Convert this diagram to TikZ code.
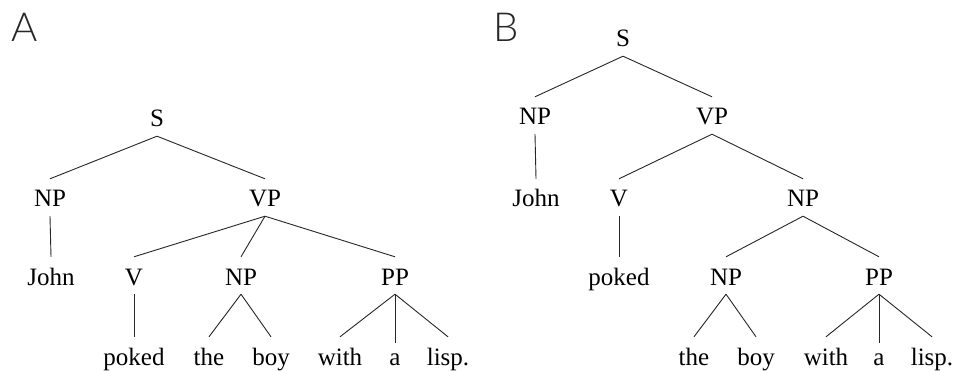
\documentclass[tikz,border=0pt]{standalone}
\usepackage{fontspec}
\setmainfont{Liberation Serif}
\newfontfamily\labfont{Lato Light}
\begin{document}
\begin{tikzpicture}[x=1pt,y=-1pt,
  cat/.style={inner sep=0pt, anchor=base, text height=28pt, text depth=9pt, font=\fontsize{25}{30}\selectfont},
  short/.style={text height=22pt},
  lab/.style={inner sep=0pt, anchor=base, font=\labfont\fontsize{40}{44}\selectfont, text=black!85},
  edge/.style={line width=0.9pt, draw=black!85}]
\useasboundingbox (0,0) rectangle (957,371);
% Panel A
\node[lab] (labA) at (25,42) {A};
\node[cat] (SA) at (157,127) {S};
\node[cat] (NPA) at (50,207) {NP};
\node[cat] (VPA) at (265,207) {VP};
\node[cat] (JohnA) at (51,285) {John};
\node[cat] (VA) at (134,285) {V};
\node[cat] (NP2A) at (241,285) {NP};
\node[cat] (PPA) at (395,285) {PP};
\node[cat] (pokedA) at (134,365) {poked};
\node[cat] (theA) at (209,365) {the};
\node[cat] (boyA) at (271,365) {boy};
\node[cat] (withA) at (340,365) {with};
\node[cat,short] (aA) at (395,365) {a};
\node[cat] (lispA) at (448,365) {lisp.};
\draw[edge] (SA.south) -- (NPA.north);
\draw[edge] (SA.south) -- (VPA.north);
\draw[edge] (NPA.south) -- (JohnA.north);
\draw[edge] (VPA.south) -- (VA.north);
\draw[edge] (VPA.south) -- (NP2A.north);
\draw[edge] (VPA.south) -- (PPA.north);
\draw[edge] (VA.south) -- (pokedA.north);
\draw[edge] (NP2A.south) -- (theA.north);
\draw[edge] (NP2A.south) -- (boyA.north);
\draw[edge] (PPA.south) -- (withA.north);
\draw[edge] (PPA.south) -- (aA.north);
\draw[edge] (PPA.south) -- (lispA.north);
% Panel B
\node[lab] (labB) at (506,42) {B};
\node[cat] (SB) at (623,47) {S};
\node[cat] (NPB) at (535,125) {NP};
\node[cat] (VPB) at (712,125) {VP};
\node[cat] (JohnB) at (536,207) {John};
\node[cat] (VB) at (619,207) {V};
\node[cat] (NP2B) at (803,207) {NP};
\node[cat] (pokedB) at (619,285) {poked};
\node[cat] (NP3B) at (726,285) {NP};
\node[cat] (PPB) at (879,285) {PP};
\node[cat] (theB) at (694,365) {the};
\node[cat] (boyB) at (756,365) {boy};
\node[cat] (withB) at (826,365) {with};
\node[cat,short] (aB) at (879,365) {a};
\node[cat] (lispB) at (932,365) {lisp.};
\draw[edge] (SB.south) -- (NPB.north);
\draw[edge] (SB.south) -- (VPB.north);
\draw[edge] (NPB.south) -- (JohnB.north);
\draw[edge] (VPB.south) -- (VB.north);
\draw[edge] (VPB.south) -- (NP2B.north);
\draw[edge] (VB.south) -- (pokedB.north);
\draw[edge] (NP2B.south) -- (NP3B.north);
\draw[edge] (NP2B.south) -- (PPB.north);
\draw[edge] (NP3B.south) -- (theB.north);
\draw[edge] (NP3B.south) -- (boyB.north);
\draw[edge] (PPB.south) -- (withB.north);
\draw[edge] (PPB.south) -- (aB.north);
\draw[edge] (PPB.south) -- (lispB.north);
\end{tikzpicture}
\end{document}
